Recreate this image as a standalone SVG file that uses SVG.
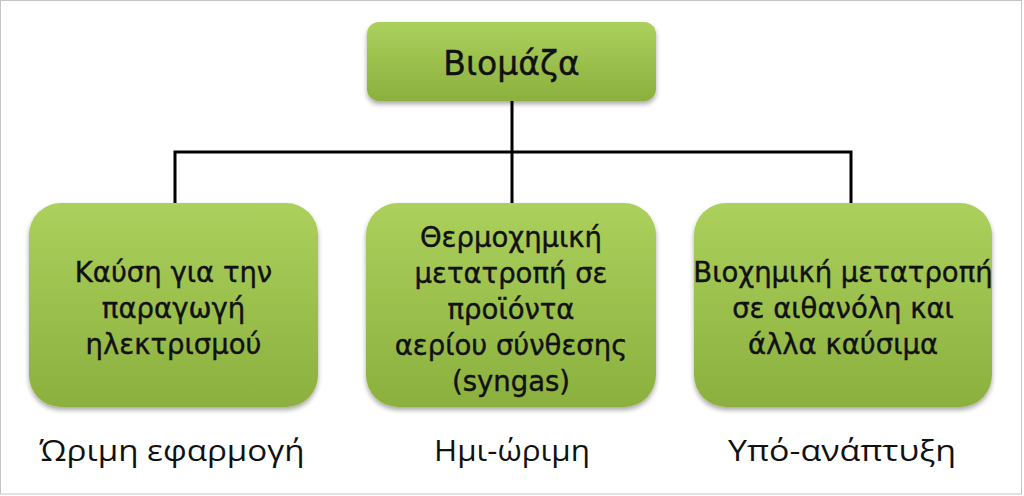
<svg xmlns="http://www.w3.org/2000/svg" width="1024" height="496" viewBox="0 0 1024 496">
<defs>
<linearGradient id="g" x1="0" y1="0" x2="0" y2="1">
<stop offset="0" stop-color="#acd05c"/>
<stop offset="1" stop-color="#8cb03e"/>
</linearGradient>
<filter id="sh" x="-10%" y="-10%" width="120%" height="130%">
<feGaussianBlur in="SourceAlpha" stdDeviation="2.5"/>
<feOffset dx="0" dy="3" result="b"/>
<feComponentTransfer><feFuncA type="linear" slope="0.35"/></feComponentTransfer>
<feMerge><feMergeNode/><feMergeNode in="SourceGraphic"/></feMerge>
</filter>
</defs>
<style>
.box{fill:url(#g);filter:url(#sh);}
.t{font-family:"Comic Sans MS","DejaVu Sans","Noto Sans",sans-serif;font-size:27.5px;fill:#111;stroke:#111;stroke-width:0.4;text-anchor:middle;}
.lab{font-family:"Open Sans","Noto Sans",sans-serif;font-size:30px;fill:#111;text-anchor:middle;}
.c{stroke:#000;stroke-width:3;fill:none;}
</style>
<rect x="0" y="0" width="1024" height="496" fill="#fff"/>
<rect x="0.5" y="0.5" width="1021" height="493.5" fill="none" stroke="#c4c4c4" stroke-width="1"/>
<g id="connectors">
<path class="c" d="M512 100 V152 M175 152 H851 M175 150.5 V205 M512 150.5 V205 M851 150.5 V205"/>
</g>
<g id="n-biomaza">
<rect class="box" x="367" y="22" width="289" height="79" rx="12"/>
<text class="t" x="511.5" y="75" style="font-size:33px">Βιομάζα</text>
</g>
<g id="n-kausi">
<rect class="box" x="29" y="203" width="289" height="204" rx="32"/>
<text class="t" x="173.5" y="282">Καύση για την</text>
<text class="t" x="173.5" y="318">παραγωγή</text>
<text class="t" x="173.5" y="354">ηλεκτρισμού</text>
</g>
<g id="n-thermo">
<rect class="box" x="366" y="203" width="290" height="204" rx="32"/>
<text class="t" x="511" y="247">Θερμοχημική</text>
<text class="t" x="511" y="283">μετατροπή  σε</text>
<text class="t" x="511" y="319">προϊόντα</text>
<text class="t" x="511" y="355">αερίου σύνθεσης</text>
<text class="t" x="511" y="391">(syngas)</text>
</g>
<g id="n-bio">
<rect class="box" x="694" y="203" width="298" height="204" rx="32"/>
<text class="t" x="843" y="282">Βιοχημική μετατροπή</text>
<text class="t" x="843" y="318">σε αιθανόλη και</text>
<text class="t" x="843" y="354">άλλα καύσιμα</text>
</g>
<g id="labels">
<text class="lab" x="172" y="461" textLength="265" lengthAdjust="spacingAndGlyphs">Ώριμη εφαρμογή</text>
<text class="lab" x="512" y="461" textLength="156" lengthAdjust="spacingAndGlyphs">Ημι-ώριμη</text>
<text class="lab" x="842" y="461" textLength="228" lengthAdjust="spacingAndGlyphs">Υπό-ανάπτυξη</text>
</g>
</svg>
